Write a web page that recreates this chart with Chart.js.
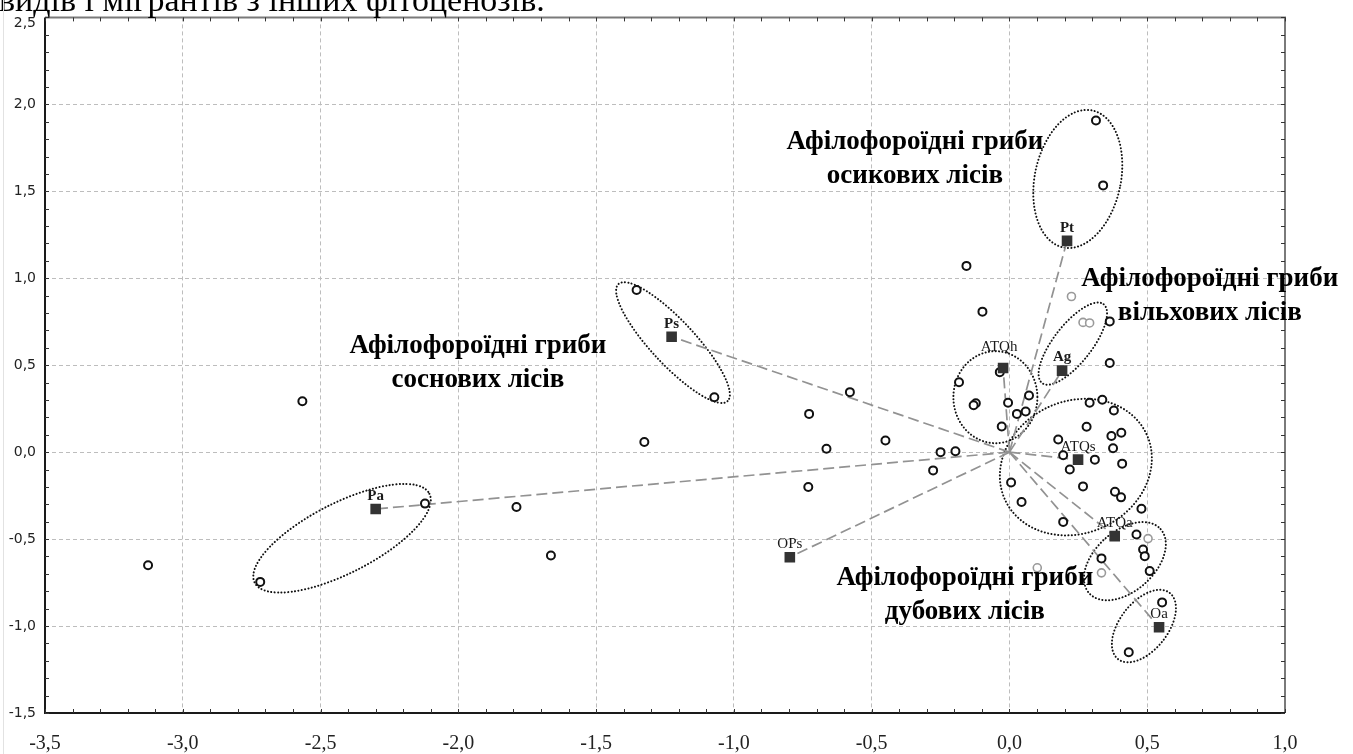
<!DOCTYPE html>
<html>
<head>
<meta charset="utf-8">
<script src="https://cdn.jsdelivr.net/npm/chart.js@4.4.0/dist/chart.umd.min.js"></script>
<style>
  html, body { margin: 0; padding: 0; background: #fff; }
  canvas { display: block; }
</style>
</head>
<body>
<canvas id="ordination" width="1353" height="754"></canvas>
<script>
// види (кола) — координати у просторі ординації
const speciesX = [-3.126, -2.566, -2.719, -2.121, -1.789, -1.664, -1.353, -1.325, -1.071, -0.727,
    -0.579, -0.664, -0.73, -0.45, -0.25, -0.196, -0.277, -0.156, -0.098, -0.183,
    -0.122, -0.13, 0.34, 0.314, 0.364, 0.364, -0.035, -0.005, 0.071, 0.027,
    0.059, -0.028, 0.291, 0.337, 0.379, 0.28, 0.37, 0.406, 0.177, 0.376,
    0.195, 0.31, 0.409, 0.219, 0.006, 0.267, 0.383, 0.405, 0.044, 0.479,
    0.195, 0.461, 0.485, 0.491, 0.334, 0.509, 0.554, 0.433];
const speciesY = [-0.65, 0.293, -0.746, -0.296, -0.315, -0.594, 0.932, 0.058, 0.316, 0.22,
    0.345, 0.02, -0.2, 0.067, 0.0, 0.005, -0.105, 1.071, 0.808, 0.402,
    0.281, 0.27, 1.534, 1.907, 0.752, 0.513, 0.46, 0.284, 0.326, 0.22,
    0.234, 0.148, 0.284, 0.301, 0.24, 0.146, 0.093, 0.112, 0.073, 0.022,
    -0.018, -0.043, -0.066, -0.1, -0.175, -0.197, -0.228, -0.26, -0.287, -0.325,
    -0.401, -0.474, -0.56, -0.598, -0.611, -0.684, -0.864, -1.151];

// блідіші кола
const faintX = [0.225, 0.267, 0.291, 0.503, 0.334, 0.101];
const faintY = [0.895, 0.746, 0.743, -0.497, -0.694, -0.665];

// типи лісів (квадрати) та вектори від початку координат
const typeNames = ['Pa', 'Ps', 'OPs', 'Pt', 'Ag', 'ATQh', 'ATQs', 'ATQa', 'Oa'];
const typeX = [-2.30, -1.226, -0.797, 0.209, 0.191, -0.023, 0.249, 0.382, 0.543];
const typeY = [-0.327, 0.664, -0.604, 1.215, 0.469, 0.484, -0.043, -0.483, -1.007];
const boldNames = ['Pa', 'Ps', 'Pt', 'Ag'];

// групи грибів: центри пунктирних овалів
const ovalX = [-2.422, -1.221, 0.248, 0.230, -0.051, 0.241, 0.419, 0.488];
const ovalY = [-0.495, 0.63, 1.571, 0.624, 0.316, -0.086, -0.627, -1.0];
// форма овалів: піврадіуси (px) і кут
const ovalShape = [[98, 35, -27], [80, 22, 47], [43, 70, 12], [50, 19, -52],
    [42, 46, 0], [78, 66, -25], [48, 30, -42], [42, 24, -52]];

// підписи груп
const groupText = [
    ['Афілофороїдні гриби', 'осикових лісів'],
    ['Афілофороїдні гриби', 'вільхових лісів'],
    ['Афілофороїдні гриби', 'соснових лісів'],
    ['Афілофороїдні гриби', 'дубових лісів']
];
const groupX = [-0.343, 0.727, -1.929, -0.162];
const groupY = [1.783, 0.997, 0.612, -0.724];

const xTickLabels = ['-3,5', '-3,0', '-2,5', '-2,0', '-1,5', '-1,0', '-0,5', '0,0', '0,5', '1,0'];
const yTickLabels = ['-1,5', '-1,0', '-0,5', '0,0', '0,5', '1,0', '1,5', '2,0', '2,5'];

const headerText = 'видів і мігрантів з інших фітоценозів.';

const toPoints = (xs, ys) => xs.map((v, i) => ({ x: v, y: ys[i] }));

// вектори
const vectorSets = typeNames.map((name, i) => ({
    label: 'v-' + name,
    data: [{ x: 0, y: 0 }, { x: typeX[i], y: typeY[i] }],
    showLine: true,
    borderColor: '#929292',
    borderWidth: 1.7,
    borderDash: [11, 5],
    pointRadius: 0,
    order: 3
}));

const decor = {
    id: 'decor',
    beforeDatasetsDraw(chart) {
        const { ctx, scales: { x, y } } = chart;
        ctx.save();
        ctx.strokeStyle = '#111';
        ctx.lineWidth = 2;
        ctx.lineCap = 'round';
        ctx.setLineDash([0.1, 3.3]);
        ovalX.forEach((v, i) => {
            const [rx, ry, ang] = ovalShape[i];
            ctx.beginPath();
            ctx.ellipse(x.getPixelForValue(v), y.getPixelForValue(ovalY[i]), rx, ry, ang * Math.PI / 180, 0, 2 * Math.PI);
            ctx.stroke();
        });
        ctx.restore();
    },
    afterDraw(chart) {
        const { ctx, chartArea: { left, right, top, bottom }, scales: { x, y } } = chart;
        ctx.save();

        // рамка
        ctx.lineWidth = 2;
        ctx.strokeStyle = '#7a7a7a';
        ctx.beginPath();
        ctx.moveTo(left, top); ctx.lineTo(right, top); ctx.lineTo(right, bottom);
        ctx.stroke();
        ctx.strokeStyle = '#1a1a1a';
        ctx.beginPath();
        ctx.moveTo(left, top); ctx.lineTo(left, bottom); ctx.lineTo(right, bottom);
        ctx.stroke();

        // дрібні поділки
        ctx.lineWidth = 1;
        ctx.strokeStyle = '#333';
        ctx.beginPath();
        for (let i = 0; i <= 45; i++) {
            const px = Math.round(x.getPixelForValue(-3.5 + i * 0.1)) + 0.5;
            ctx.moveTo(px, bottom); ctx.lineTo(px, bottom - 4);
            ctx.moveTo(px, top); ctx.lineTo(px, top + 4);
        }
        for (let i = 0; i <= 40; i++) {
            const py = Math.round(y.getPixelForValue(-1.5 + i * 0.1)) + 0.5;
            ctx.moveTo(left, py); ctx.lineTo(left + 4, py);
            ctx.moveTo(right, py); ctx.lineTo(right - 4, py);
        }
        ctx.stroke();

        // підписи квадратів
        ctx.fillStyle = '#1a1a1a';
        ctx.textAlign = 'center';
        ctx.textBaseline = 'middle';
        typeNames.forEach((name, i) => {
            ctx.font = (boldNames.includes(name) ? 'bold ' : '') + '15px "Liberation Serif"';
            const dy = name === 'ATQh' ? 21 : 13;
            ctx.fillText(name, x.getPixelForValue(typeX[i]) - (name === 'ATQh' ? 4 : 0), y.getPixelForValue(typeY[i]) - dy);
        });

        // підписи груп
        ctx.fillStyle = '#000';
        ctx.font = 'bold 27px "Liberation Serif"';
        groupText.forEach((lines, i) => {
            const gx = x.getPixelForValue(groupX[i]);
            const gy = y.getPixelForValue(groupY[i]);
            lines.forEach((t, k) => ctx.fillText(t, gx, gy + k * 34));
        });

        // обрізаний рядок тексту зверху
        ctx.textAlign = 'left';
        ctx.textBaseline = 'alphabetic';
        ctx.font = '34px "Liberation Serif"';
        ctx.fillText(headerText, -1, 11);

        // верхня позначка осі Y трохи нижче, під текстом
        ctx.textAlign = 'right';
        ctx.textBaseline = 'middle';
        ctx.fillStyle = '#222';
        ctx.font = '14px "DejaVu Sans"';
        ctx.fillText(yTickLabels[yTickLabels.length - 1], left - 9, top + 6);

        // бліда межа сторінки
        ctx.strokeStyle = '#e2e2e2';
        ctx.beginPath();
        ctx.moveTo(3.5, 0); ctx.lineTo(3.5, 754);
        ctx.stroke();
        ctx.restore();
    }
};

new Chart(document.getElementById('ordination'), {
    type: 'scatter',
    data: {
        datasets: [
            ...vectorSets,
            {
                label: 'faint',
                data: toPoints(faintX, faintY),
                pointRadius: 4,
                pointBorderWidth: 1.6,
                pointBorderColor: '#9a9a9a',
                pointBackgroundColor: '#fff',
                order: 2
            },
            {
                label: 'species',
                data: toPoints(speciesX, speciesY),
                pointRadius: 4,
                pointBorderWidth: 2,
                pointBorderColor: '#111',
                pointBackgroundColor: '#fff',
                order: 1
            },
            {
                label: 'types',
                data: toPoints(typeX, typeY),
                pointStyle: 'rect',
                pointRadius: 7.5,
                pointBorderWidth: 0,
                pointBackgroundColor: '#333',
                order: 0
            }
        ]
    },
    options: {
        responsive: false,
        animation: false,
        layout: { padding: { left: 0, top: 16, right: 68, bottom: 0 } },
        plugins: {
            legend: { display: false },
            tooltip: { enabled: false }
        },
        scales: {
            x: {
                type: 'linear',
                min: -3.5,
                max: 1.0,
                afterFit: s => { s.height = 41; },
                ticks: {
                    stepSize: 0.5,
                    padding: 19,
                    color: '#222',
                    font: { family: 'Liberation Serif', size: 20 },
                    callback: (v, i) => xTickLabels[i]
                },
                grid: { color: '#bdbdbd', lineWidth: 1, drawTicks: false },
                border: { display: false, dash: [4, 3] }
            },
            y: {
                type: 'linear',
                min: -1.5,
                max: 2.5,
                afterFit: s => { s.width = 45; },
                ticks: {
                    stepSize: 0.5,
                    padding: 9,
                    color: '#222',
                    font: { family: 'DejaVu Sans', size: 14 },
                    // верхню позначку малює плагін
                    callback: (v, i) => (i === yTickLabels.length - 1 ? '' : yTickLabels[i])
                },
                grid: { color: '#bdbdbd', lineWidth: 1, drawTicks: false },
                border: { display: false, dash: [4, 3] }
            }
        }
    },
    plugins: [decor]
});
</script>
</body>
</html>
